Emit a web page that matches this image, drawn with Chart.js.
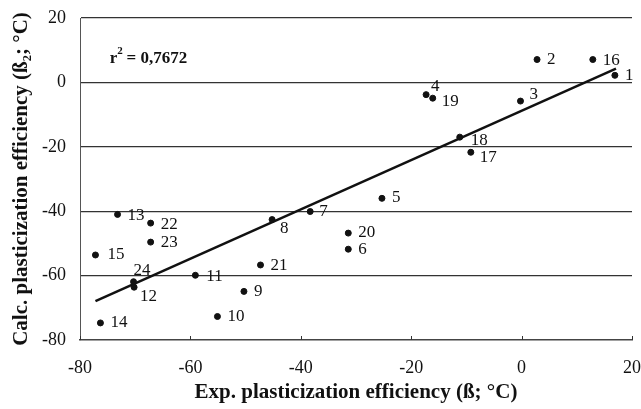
<!DOCTYPE html>
<html>
<head>
<meta charset="utf-8">
<script src="https://cdn.jsdelivr.net/npm/chart.js@4.4.0/dist/chart.umd.min.js"></script>
<style>
    html, body { margin: 0; padding: 0; background: #fff; }
    #wrap { width: 641px; height: 409px; position: relative; }
</style>
</head>
<body>
<div id="wrap"><canvas id="chart" width="641" height="409"></canvas></div>
<script>
// Data
const pointIds = ['1', '2', '3', '4', '5', '6', '7', '8', '9', '10', '11', '12',
                  '13', '14', '15', '16', '17', '18', '19', '20', '21', '22', '23', '24'];
const expValues = [16.9, 2.8, -0.2, -17.3, -25.3, -31.4, -38.3, -45.2, -50.3, -55.1, -59.1, -70.2,
                   -73.2, -76.3, -77.2, 12.9, -9.2, -11.2, -16.1, -31.4, -47.3, -67.2, -67.2, -70.3];
const calcValues = [2.2, 7.1, -5.8, -3.8, -36.0, -51.8, -40.1, -42.6, -64.9, -72.7, -59.9, -63.6,
                    -41.0, -74.7, -53.6, 7.1, -21.7, -17.0, -4.9, -46.8, -56.7, -43.7, -49.6, -61.9];
const fitX = [-77.2, 17.1];
const fitY = [-67.9, 4.3];
const xTicks = [-80, -60, -40, -20, 0, 20];
const yTicks = [-80, -60, -40, -20, 0, 20];
const rSquared = '0,7672';

// Label offsets in pixels relative to each dot (style only)
const labelOffsets = {
    '1': [10, 0], '2': [10, 0], '3': [9, -7], '4': [5, -8], '5': [10, -1],
    '6': [10, 0], '7': [9, 0], '8': [8, 9], '9': [10, 0], '10': [10, 0],
    '11': [11, 1], '12': [6, 9], '13': [10, 1], '14': [10, 0], '15': [12, 0],
    '16': [10, 1], '17': [9, 5], '18': [11, 3], '19': [9, 3], '20': [10, -1],
    '21': [10, 1], '22': [10, 1], '23': [10, 0], '24': [0, -11]
};

const serif = '"Liberation Serif", "Times New Roman", serif';
const ink = '#111';

const points = expValues.map((x, i) => ({ x: x, y: calcValues[i], id: pointIds[i] }));
const fitLine = fitX.map((x, i) => ({ x: x, y: fitY[i] }));

// Draws point numbers, r² note and inward x tick marks
const annotatePlugin = {
    id: 'annotate',
    afterDatasetsDraw(chart) {
        const ctx = chart.ctx;
        const xs = chart.scales.x;
        const ys = chart.scales.y;
        ctx.save();
        ctx.fillStyle = ink;
        ctx.font = '17px ' + serif;
        ctx.textBaseline = 'middle';
        ctx.textAlign = 'left';
        const meta = chart.getDatasetMeta(0);
        meta.data.forEach((el, i) => {
            const id = pointIds[i];
            const off = labelOffsets[id] || [10, 0];
            ctx.fillText(id, el.x + off[0], el.y + off[1]);
        });

        // r² annotation
        const ax = xs.getPixelForValue(-74.6);
        const ay = ys.getPixelForValue(7.5);
        ctx.font = 'bold 17px ' + serif;
        ctx.fillText('r', ax, ay);
        const rw = ctx.measureText('r').width;
        ctx.font = 'bold 11px ' + serif;
        ctx.fillText('2', ax + rw, ay - 7);
        ctx.font = 'bold 17px ' + serif;
        ctx.fillText(' = ' + rSquared, ax + rw + 5, ay);

        // small tick marks on the bottom axis pointing inward
        ctx.strokeStyle = '#333';
        ctx.lineWidth = 1;
        xTicks.forEach(v => {
            const px = Math.round(xs.getPixelForValue(v)) + 0.5;
            ctx.beginPath();
            ctx.moveTo(px, ys.bottom);
            ctx.lineTo(px, ys.bottom - 4);
            ctx.stroke();
        });
        ctx.restore();
    }
};

new Chart(document.getElementById('chart').getContext('2d'), {
    type: 'scatter',
    data: {
        datasets: [{
            label: 'Samples',
            data: points,
            backgroundColor: ink,
            borderColor: ink,
            pointRadius: 3,
            pointHoverRadius: 3,
            showLine: false
        }, {
            label: 'Fit',
            data: fitLine,
            borderColor: ink,
            borderWidth: 2.5,
            pointRadius: 0,
            showLine: true,
            fill: false
        }]
    },
    options: {
        responsive: false,
        animation: false,
        layout: {
            padding: { top: 18, right: 9, left: 0, bottom: 0 }
        },
        plugins: {
            legend: { display: false },
            tooltip: { enabled: false }
        },
        scales: {
            x: {
                type: 'linear',
                min: -80,
                max: 20,
                afterBuildTicks: scale => { scale.ticks = xTicks.map(v => ({ value: v })); },
                afterFit: scale => {
                    scale.height = 69;
                    scale.paddingLeft = 0;
                    scale.paddingRight = 0;
                },
                ticks: {
                    color: ink,
                    padding: 17,
                    font: { family: serif, size: 18 }
                },
                grid: {
                    display: true,
                    drawOnChartArea: false,
                    drawTicks: false
                },
                border: { display: true, color: '#444', width: 1.5 },
                title: {
                    display: true,
                    text: 'Exp. plasticization efficiency (ß; °C)',
                    color: ink,
                    font: { family: serif, size: 21, weight: 'bold' },
                    padding: { top: 2, bottom: 4 }
                }
            },
            y: {
                type: 'linear',
                min: -80,
                max: 20,
                afterBuildTicks: scale => { scale.ticks = yTicks.map(v => ({ value: v })); },
                afterFit: scale => {
                    scale.width = 80;
                    scale.paddingTop = 0;
                    scale.paddingBottom = 0;
                },
                ticks: {
                    color: ink,
                    padding: 14,
                    font: { family: serif, size: 18 }
                },
                grid: {
                    color: ctx => (ctx.tick && ctx.tick.value === -80) ? 'rgba(0,0,0,0)' : '#333',
                    lineWidth: 1.2,
                    drawTicks: false
                },
                border: { display: true, color: '#555', width: 1 },
                title: {
                    display: true,
                    text: 'Calc. plasticization efficiency (ß₂; °C)',
                    color: ink,
                    font: { family: serif, size: 21, weight: 'bold' },
                    padding: { top: 9, bottom: 0 }
                }
            }
        }
    },
    plugins: [annotatePlugin]
});
</script>
</body>
</html>
